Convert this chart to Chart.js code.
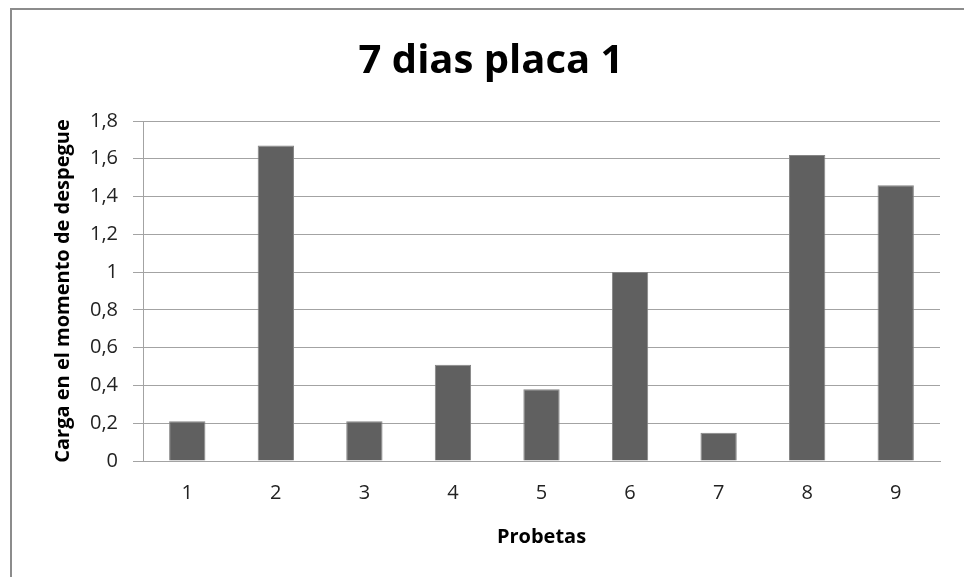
<!DOCTYPE html>
<html>
<head>
<meta charset="utf-8">
<script src="https://cdn.jsdelivr.net/npm/chart.js@4/dist/chart.umd.min.js"></script>
<style>
  html, body { margin: 0; padding: 0; background: #ffffff; }
  #wrap { width: 964px; height: 577px; position: relative; }
</style>
</head>
<body>
<div id="wrap"><canvas id="c" width="964" height="577"></canvas></div>
<script>
// Probetas (specimens) and the load recorded at lift-off
const probetas = ['1', '2', '3', '4', '5', '6', '7', '8', '9'];
const carga = [0.21, 1.67, 0.21, 0.51, 0.38, 1.00, 0.15, 1.62, 1.46];
const yTickLabels = ['0', '0,2', '0,4', '0,6', '0,8', '1', '1,2', '1,4', '1,6', '1,8'];

const FONT = "'Open Sans', 'Noto Sans', sans-serif";
const GRID = '#a3a3a3';

// white page with the grey outer frame of the chart object
const framePlugin = {
  id: 'frame',
  beforeDraw(chart) {
    const ctx = chart.ctx;
    ctx.save();
    ctx.fillStyle = '#ffffff';
    ctx.fillRect(0, 0, chart.width, chart.height);
    ctx.strokeStyle = '#8c8c8c';
    ctx.lineWidth = 2;
    ctx.strokeRect(11, 9, 2000, 2000);
    ctx.restore();
  }
};

new Chart(document.getElementById('c'), {
  type: 'bar',
  data: {
    labels: probetas,
    datasets: [{
      label: 'Carga',
      data: carga,
      backgroundColor: '#606060',
      borderColor: '#858585',
      borderWidth: 1,
      categoryPercentage: 1.0,
      barPercentage: 0.41
    }]
  },
  options: {
    responsive: false,
    animation: false,
    layout: { padding: { left: 42, right: 24, top: 10, bottom: 0 } },
    plugins: {
      legend: { display: false },
      tooltip: { enabled: false },
      title: {
        display: true,
        text: '7 dias placa 1',
        color: '#000000',
        font: { family: FONT, size: 40, weight: 'bold' },
        padding: { top: 28, bottom: 35 }
      }
    },
    scales: {
      x: {
        afterFit(scale) { scale.height = 116; },
        grid: { display: false, drawTicks: false },
        border: { display: true, color: GRID, width: 1 },
        ticks: {
          color: '#222222',
          padding: 20,
          font: { family: FONT, size: 20 }
        },
        title: {
          display: true,
          text: 'Probetas',
          color: '#000000',
          font: { family: FONT, size: 20, weight: 'bold' },
          padding: { top: 0, bottom: 28 }
        }
      },
      y: {
        min: 0,
        max: 1.8,
        afterFit(scale) { scale.width = 101; },
        grid: { color: GRID, lineWidth: 1, drawTicks: true, tickLength: 10, tickColor: GRID },
        border: { display: true, color: GRID, width: 1 },
        ticks: {
          stepSize: 0.2,
          padding: 15,
          color: '#222222',
          font: { family: FONT, size: 20 },
          callback: (v, i) => yTickLabels[i]
        },
        title: {
          display: true,
          text: 'Carga en el momento de despegue',
          color: '#000000',
          font: { family: FONT, size: 20, weight: 'bold' },
          padding: { top: 9, bottom: 0 }
        }
      }
    }
  },
  plugins: [framePlugin]
});
</script>
</body>
</html>
